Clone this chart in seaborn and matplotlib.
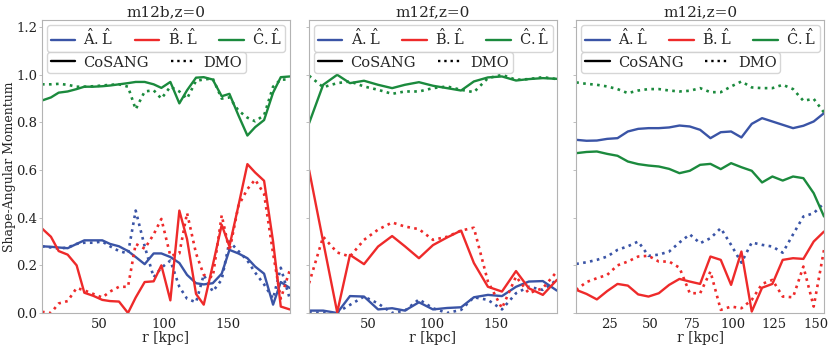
import numpy as np
import pandas as pd
import matplotlib
matplotlib.use("Agg")
import matplotlib.pyplot as plt
from matplotlib.lines import Line2D
import seaborn as sns

# ---- data ----
titles = ["m12b,z=0", "m12f,z=0", "m12i,z=0"]

# m12b
r_b = [5, 12, 18, 25, 32, 38, 45, 52, 58, 65, 72, 78, 85, 92, 98,
       105, 112, 118, 125, 131, 138, 145, 151, 158, 165, 171, 178, 185, 191, 198]
a_cos_b = [0.28, 0.278, 0.275, 0.272, 0.29, 0.305, 0.305, 0.305, 0.29, 0.28, 0.26, 0.235, 0.205, 0.25, 0.25,
           0.235, 0.21, 0.16, 0.125, 0.12, 0.125, 0.165, 0.265, 0.25, 0.23, 0.195, 0.165, 0.035, 0.13, 0.105]
b_cos_b = [0.355, 0.32, 0.26, 0.245, 0.20, 0.085, 0.072, 0.055, 0.05, 0.048, 0.0, 0.065, 0.13, 0.133, 0.20,
           0.053, 0.43, 0.31, 0.08, 0.035, 0.20, 0.37, 0.28, 0.45, 0.625, 0.59, 0.555, 0.30, 0.027, 0.015]
c_cos_b = [0.892, 0.905, 0.925, 0.93, 0.94, 0.95, 0.95, 0.952, 0.955, 0.96, 0.965, 0.97, 0.97, 0.96, 0.945,
           0.97, 0.88, 0.935, 0.988, 0.99, 0.98, 0.91, 0.92, 0.83, 0.745, 0.78, 0.81, 0.925, 0.99, 0.993]
a_dmo_b = [0.28, 0.275, 0.27, 0.275, 0.29, 0.295, 0.295, 0.30, 0.28, 0.26, 0.25, 0.43, 0.28, 0.15, 0.19,
           0.22, 0.11, 0.06, 0.045, 0.16, 0.09, 0.14, 0.30, 0.26, 0.22, 0.17, 0.12, 0.06, 0.19, 0.06]
b_dmo_b = [0.005, 0.0, 0.04, 0.05, 0.105, 0.095, 0.08, 0.065, 0.09, 0.11, 0.11, 0.29, 0.27, 0.33, 0.395,
           0.24, 0.25, 0.42, 0.25, 0.16, 0.15, 0.41, 0.26, 0.45, 0.52, 0.56, 0.50, 0.25, 0.06, 0.18]
c_dmo_b = [0.96, 0.96, 0.962, 0.958, 0.95, 0.95, 0.952, 0.955, 0.958, 0.96, 0.95, 0.855, 0.93, 0.935, 0.90,
           0.95, 0.93, 0.90, 0.975, 0.98, 0.985, 0.90, 0.905, 0.85, 0.82, 0.805, 0.83, 0.95, 0.98, 0.98]

# m12f
r_f = [4, 15, 26, 36, 47, 58, 69, 79, 90, 101, 112, 123, 133, 144, 155, 166, 176, 187, 198]
a_cos_f = [0.01, 0.01, 0.0, 0.071, 0.069, 0.015, 0.02, 0.01, 0.045, 0.015, 0.021, 0.024, 0.066, 0.076,
           0.071, 0.11, 0.132, 0.134, 0.094]
b_cos_f = [0.60, 0.30, 0.003, 0.244, 0.205, 0.279, 0.323, 0.28, 0.23, 0.285, 0.317, 0.346, 0.21, 0.11,
           0.09, 0.176, 0.104, 0.076, 0.139]
c_cos_f = [0.797, 0.958, 1.0, 0.965, 0.975, 0.958, 0.944, 0.958, 0.969, 0.954, 0.944, 0.934, 0.972, 0.989,
           0.993, 0.976, 0.982, 0.986, 0.983]
a_dmo_f = [0.003, 0.0, 0.003, 0.034, 0.069, 0.04, 0.0, 0.01, 0.057, 0.02, 0.0, 0.013, 0.066, 0.055,
           0.015, 0.083, 0.11, 0.097, 0.139]
b_dmo_f = [0.125, 0.32, 0.254, 0.237, 0.307, 0.35, 0.38, 0.363, 0.352, 0.307, 0.32, 0.346, 0.358, 0.132,
           0.02, 0.153, 0.083, 0.104, 0.174]
c_dmo_f = [0.996, 0.948, 0.965, 0.972, 0.951, 0.937, 0.92, 0.93, 0.93, 0.944, 0.951, 0.937, 0.927, 0.986,
           1.0, 0.979, 0.982, 0.99, 0.982]

# m12i
r_i = [5, 11.25, 17.5, 23.75, 30, 36.25, 42.5, 48.75, 55, 61.25, 67.5, 73.75, 80, 86.25, 92.5,
       98.75, 105, 111.25, 117.5, 123.75, 130, 136.25, 142.5, 148.75, 155]
a_cos_i = [0.727, 0.723, 0.724, 0.731, 0.734, 0.762, 0.773, 0.776, 0.776, 0.779, 0.787, 0.783, 0.769,
           0.734, 0.759, 0.762, 0.737, 0.794, 0.818, 0.804, 0.79, 0.776, 0.786, 0.804, 0.839]
b_cos_i = [0.097, 0.08, 0.057, 0.092, 0.122, 0.115, 0.078, 0.069, 0.083, 0.118, 0.143, 0.132, 0.122,
           0.237, 0.223, 0.118, 0.258, 0.006, 0.106, 0.122, 0.223, 0.23, 0.227, 0.30, 0.342]
c_cos_i = [0.671, 0.676, 0.678, 0.668, 0.66, 0.636, 0.625, 0.619, 0.615, 0.605, 0.587, 0.597, 0.622,
           0.626, 0.604, 0.629, 0.612, 0.597, 0.548, 0.573, 0.556, 0.573, 0.566, 0.503, 0.405]
a_dmo_i = [0.206, 0.213, 0.223, 0.237, 0.265, 0.28, 0.30, 0.24, 0.245, 0.258, 0.296, 0.33, 0.293,
           0.314, 0.356, 0.286, 0.211, 0.296, 0.286, 0.279, 0.253, 0.33, 0.405, 0.419, 0.461]
b_dmo_i = [0.097, 0.13, 0.146, 0.16, 0.20, 0.216, 0.237, 0.24, 0.216, 0.216, 0.19, 0.083, 0.083,
           0.174, 0.013, 0.027, 0.02, 0.055, 0.122, 0.139, 0.069, 0.066, 0.195, 0.027, 0.265]
c_dmo_i = [0.968, 0.962, 0.958, 0.951, 0.94, 0.923, 0.934, 0.94, 0.94, 0.934, 0.93, 0.933, 0.944,
           0.927, 0.927, 0.951, 0.972, 0.947, 0.944, 0.944, 0.958, 0.94, 0.891, 0.899, 0.842]

panels = [
    (r_b, [a_cos_b, b_cos_b, c_cos_b], [a_dmo_b, b_dmo_b, c_dmo_b]),
    (r_f, [a_cos_f, b_cos_f, c_cos_f], [a_dmo_f, b_dmo_f, c_dmo_f]),
    (r_i, [a_cos_i, b_cos_i, c_cos_i], [a_dmo_i, b_dmo_i, c_dmo_i]),
]
xlims = [(5, 198), (4, 198), (5, 155)]
xticks = [[50, 100, 150], [50, 100, 150], [25, 50, 75, 100, 125, 150]]

labels = [r"$\hat{\mathrm{A}}.\hat{\mathrm{L}}$",
          r"$\hat{\mathrm{B}}.\hat{\mathrm{L}}$",
          r"$\hat{\mathrm{C}}.\hat{\mathrm{L}}$"]
colors = ["#3a54a6", "#ee2a2a", "#1b8a3d"]

# ---- style ----
sns.set_style("white")
plt.rcParams["font.family"] = ["DejaVu Serif"]
plt.rcParams["mathtext.fontset"] = "dejavuserif"
plt.rcParams["axes.edgecolor"] = "#b3b3b3"
plt.rcParams["xtick.color"] = "#b3b3b3"
plt.rcParams["ytick.color"] = "#b3b3b3"
plt.rcParams["xtick.labelcolor"] = "#222222"
plt.rcParams["ytick.labelcolor"] = "#222222"

fig, axes = plt.subplots(1, 3, figsize=(8.31, 3.48), dpi=100, sharey=True)
fig.subplots_adjust(left=0.0505, right=0.9916, top=0.9425, bottom=0.1006, wspace=0.078)

for k, ax in enumerate(axes):
    r, cos, dmo = panels[k]
    for j in range(3):
        sns.lineplot(x=r, y=cos[j], color=colors[j], lw=1.7, ls="-", ax=ax)
        sns.lineplot(x=r, y=dmo[j], color=colors[j], lw=1.9, ls=":", ax=ax)
    ax.set_xlim(*xlims[k])
    ax.set_ylim(0, 1.23)
    ax.set_xticks(xticks[k])
    ax.set_yticks([0.0, 0.2, 0.4, 0.6, 0.8, 1.0, 1.2])
    ax.tick_params(axis="both", labelsize=9.5, length=2.5, width=0.6, direction="out",
                   left=True, bottom=False, pad=1)
    ax.set_title(titles[k], fontsize=11, pad=3)
    ax.set_xlabel("r [kpc]", fontsize=10, labelpad=0)

    h1 = [Line2D([], [], color=c, lw=1.7) for c in colors]
    leg1 = ax.legend(h1, labels, loc="upper left", ncol=3, fontsize=10.5,
                     bbox_to_anchor=(0.02, 0.983), borderaxespad=0, borderpad=0.25,
                     columnspacing=1.5, handlelength=1.7, handletextpad=0.55)
    ax.add_artist(leg1)
    h2 = [Line2D([], [], color="black", lw=1.7, ls="-"),
          Line2D([], [], color="black", lw=1.7, ls=":")]
    ax.legend(h2, ["CoSANG", "DMO"], loc="upper left", ncol=2, fontsize=10.5,
              bbox_to_anchor=(0.02, 0.891), borderaxespad=0, borderpad=0.25,
              columnspacing=1.5, handlelength=1.7, handletextpad=0.55)

axes[0].set_ylabel("Shape-Angular Momentum", fontsize=9)
axes[0].yaxis.set_label_coords(-0.104, 0.5)
axes[0].tick_params(axis="y", labelleft=True)

plt.savefig("out.png", dpi=100)
